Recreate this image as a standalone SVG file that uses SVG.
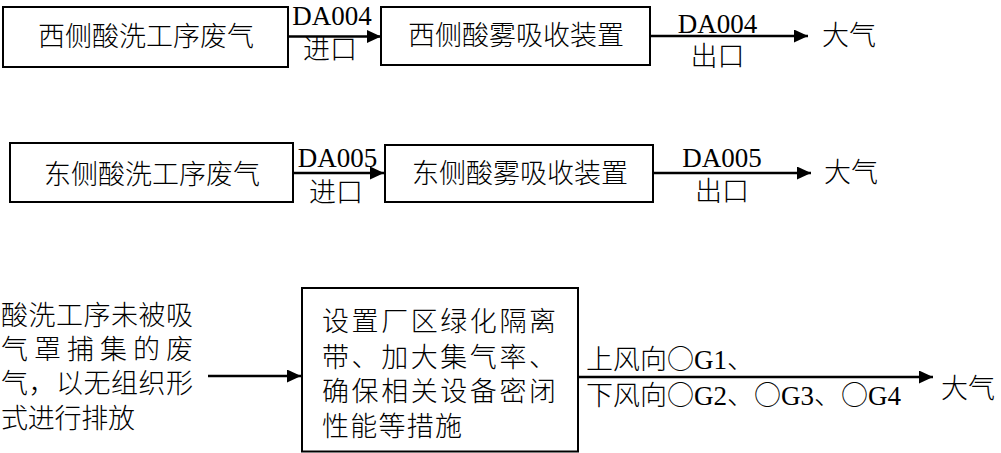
<svg xmlns="http://www.w3.org/2000/svg" width="1001" height="453" viewBox="0 0 1001 453">
<style>
.box{fill:#fff;stroke:#000;stroke-width:2}
.ln{stroke:#000;stroke-width:2.6;fill:none;marker-end:url(#ah)}
text{font-family:"Liberation Serif","Noto Sans CJK SC",serif;font-size:27px;font-weight:300;fill:#000}
.c{text-anchor:middle}
.cjk{font-family:"Noto Sans CJK SC",sans-serif}
</style>
<defs>
<marker id="ah" markerUnits="userSpaceOnUse" markerWidth="16" markerHeight="14" refX="14" refY="6.5" orient="auto">
<path d="M0,0 L14,6.5 L0,13 Z" fill="#000"/>
</marker>
</defs>
<rect width="1001" height="453" fill="#fff"/>
<g id="connectors">
<line class="ln" x1="288" y1="36.5" x2="381" y2="36.5"/>
<line class="ln" x1="650" y1="36" x2="808" y2="36"/>
<line class="ln" x1="293" y1="173" x2="384" y2="173"/>
<line class="ln" x1="653" y1="173" x2="811" y2="173"/>
<line class="ln" x1="208" y1="376" x2="301" y2="376"/>
<line class="ln" x1="578" y1="377" x2="933" y2="377"/>
<text class="c" x="332" y="25">DA004</text>
<text class="c" x="330" y="59">进口</text>
<text class="c" x="717.5" y="33">DA004</text>
<text class="c" x="717.5" y="66">出口</text>
<text class="c" x="337.5" y="167">DA005</text>
<text class="c" x="336" y="201.5">进口</text>
<text class="c" x="722" y="167">DA005</text>
<text class="c" x="722" y="201">出口</text>
<text x="586" y="368.5">上风向<tspan class="cjk">○</tspan>G1、</text>
<text x="586" y="404.5">下风向<tspan class="cjk">○</tspan>G2、<tspan class="cjk">○</tspan>G3、<tspan class="cjk">○</tspan>G4</text>
</g>
<g id="n1">
<rect class="box" x="3" y="7" width="285" height="60"/>
<text class="c" x="146" y="46">西侧酸洗工序废气</text>
</g>
<g id="n2">
<rect class="box" x="381" y="7" width="269" height="58"/>
<text class="c" x="516" y="45">西侧酸雾吸收装置</text>
</g>
<g id="n3">
<text x="822" y="44.5">大气</text>
</g>
<g id="n4">
<rect class="box" x="10" y="143" width="283" height="59"/>
<text class="c" x="152" y="183.5">东侧酸洗工序废气</text>
</g>
<g id="n5">
<rect class="box" x="385" y="145" width="268" height="57"/>
<text class="c" x="520" y="183">东侧酸雾吸收装置</text>
</g>
<g id="n6">
<text x="824" y="181.5">大气</text>
</g>
<g id="n7">
<text x="1" y="325" textLength="192" lengthAdjust="spacing">酸洗工序未被吸</text>
<text x="1" y="359" textLength="192" lengthAdjust="spacing">气罩捕集的废</text>
<text x="1" y="392.5" textLength="192" lengthAdjust="spacing">气，以无组织形</text>
<text x="1" y="427.5" textLength="134" lengthAdjust="spacing">式进行排放</text>
</g>
<g id="n8">
<rect class="box" x="302" y="288" width="276" height="163.5"/>
<text x="322" y="331" textLength="234" lengthAdjust="spacing">设置厂区绿化隔离</text>
<text x="322" y="367" textLength="234" lengthAdjust="spacing">带、加大集气率、</text>
<text x="322" y="401" textLength="234" lengthAdjust="spacing">确保相关设备密闭</text>
<text x="322" y="436" textLength="140" lengthAdjust="spacing">性能等措施</text>
</g>
<g id="n9">
<text x="941" y="398">大气</text>
</g>
</svg>
